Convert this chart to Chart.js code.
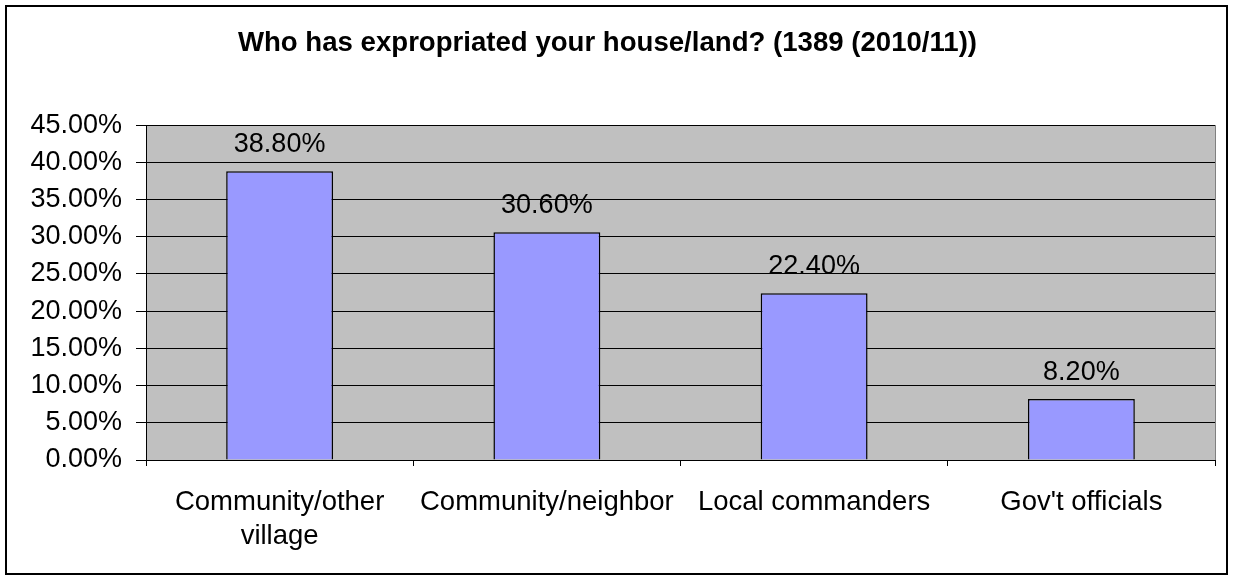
<!DOCTYPE html>
<html lang="en">
<head>
  <meta charset="UTF-8">
  <title>Who has expropriated your house/land?</title>
  <script src="https://cdn.jsdelivr.net/npm/chart.js"></script>
  <style>
    html, body { margin: 0; padding: 0; background: #fff; }
    #wrap { position: relative; width: 1233px; height: 579px; }
  </style>
</head>
<body>
  <div id="wrap">
    <canvas id="chart" width="1233" height="579"></canvas>
  </div>
  <script>
    // data
    const categories = [['Community/other', 'village'], 'Community/neighbor', 'Local commanders', "Gov't officials"];
    const shares = [38.8, 30.6, 22.4, 8.2];
    const yTicks = [0, 5, 10, 15, 20, 25, 30, 35, 40, 45];

    const FONT = 'Arial, "Liberation Sans", sans-serif';

    // grey plot area, outer frame, value labels
    const excelLook = {
      id: 'excelLook',
      beforeDraw(chart) {
        const ctx = chart.ctx, a = chart.chartArea;
        ctx.save();
        ctx.fillStyle = '#fff';
        ctx.fillRect(0, 0, chart.width, chart.height);
        ctx.fillStyle = '#c0c0c0';
        ctx.fillRect(a.left, a.top, a.right - a.left, a.bottom - a.top);
        ctx.strokeStyle = '#000';
        ctx.lineWidth = 2;
        ctx.strokeRect(6, 6, chart.width - 12, chart.height - 11);
        ctx.restore();
      },
      afterDraw(chart) {
        const ctx = chart.ctx, a = chart.chartArea;
        ctx.save();
        ctx.strokeStyle = '#808080';
        ctx.lineWidth = 1;
        ctx.beginPath();
        ctx.moveTo(a.right + 0.5, a.top);
        ctx.lineTo(a.right + 0.5, a.bottom);
        ctx.stroke();
        ctx.restore();
      },
      afterDatasetsDraw(chart) {
        const ctx = chart.ctx;
        const meta = chart.getDatasetMeta(0);
        ctx.save();
        ctx.font = '27px ' + FONT;
        ctx.fillStyle = '#000';
        ctx.textAlign = 'center';
        ctx.textBaseline = 'alphabetic';
        meta.data.forEach((bar, i) => {
          ctx.fillText(shares[i].toFixed(2) + '%', bar.x, bar.y - 19);
        });
        ctx.restore();
      }
    };

    new Chart(document.getElementById('chart'), {
      type: 'bar',
      data: {
        labels: categories,
        datasets: [{
          data: shares,
          backgroundColor: '#9999ff',
          borderColor: '#000',
          borderWidth: 1.5,
          barPercentage: 0.4,
          categoryPercentage: 1
        }]
      },
      options: {
        responsive: false,
        animation: false,
        layout: { padding: { left: 0, right: 18, top: 0, bottom: 0 } },
        plugins: {
          legend: { display: false },
          tooltip: { enabled: false },
          title: {
            display: true,
            text: 'Who has expropriated your house/land? (1389 (2010/11))',
            color: '#000',
            font: { family: FONT, size: 27.6, weight: 'bold', lineHeight: 1.2 },
            padding: { top: 27, bottom: 65 }
          }
        },
        scales: {
          x: {
            grid: { display: true, drawOnChartArea: false, offset: true, tickLength: 6, color: '#000' },
            border: { display: true, color: '#000', width: 1 },
            ticks: { color: '#000', font: { family: FONT, size: 27.5, lineHeight: 1.25 }, padding: 19, maxRotation: 0, autoSkip: false },
            afterFit(scale) { scale.height = 119; }
          },
          y: {
            min: 0,
            max: 45,
            afterBuildTicks(scale) { scale.ticks = yTicks.map(v => ({ value: v })); },
            grid: { color: '#000', lineWidth: 1, tickLength: 10 },
            border: { display: true, color: '#000', width: 1 },
            ticks: {
              color: '#000',
              font: { family: FONT, size: 27 },
              padding: 14,
              callback: v => v.toFixed(2) + '%'
            },
            afterFit(scale) { scale.width = 146; }
          }
        }
      },
      plugins: [excelLook]
    });
  </script>
</body>
</html>
